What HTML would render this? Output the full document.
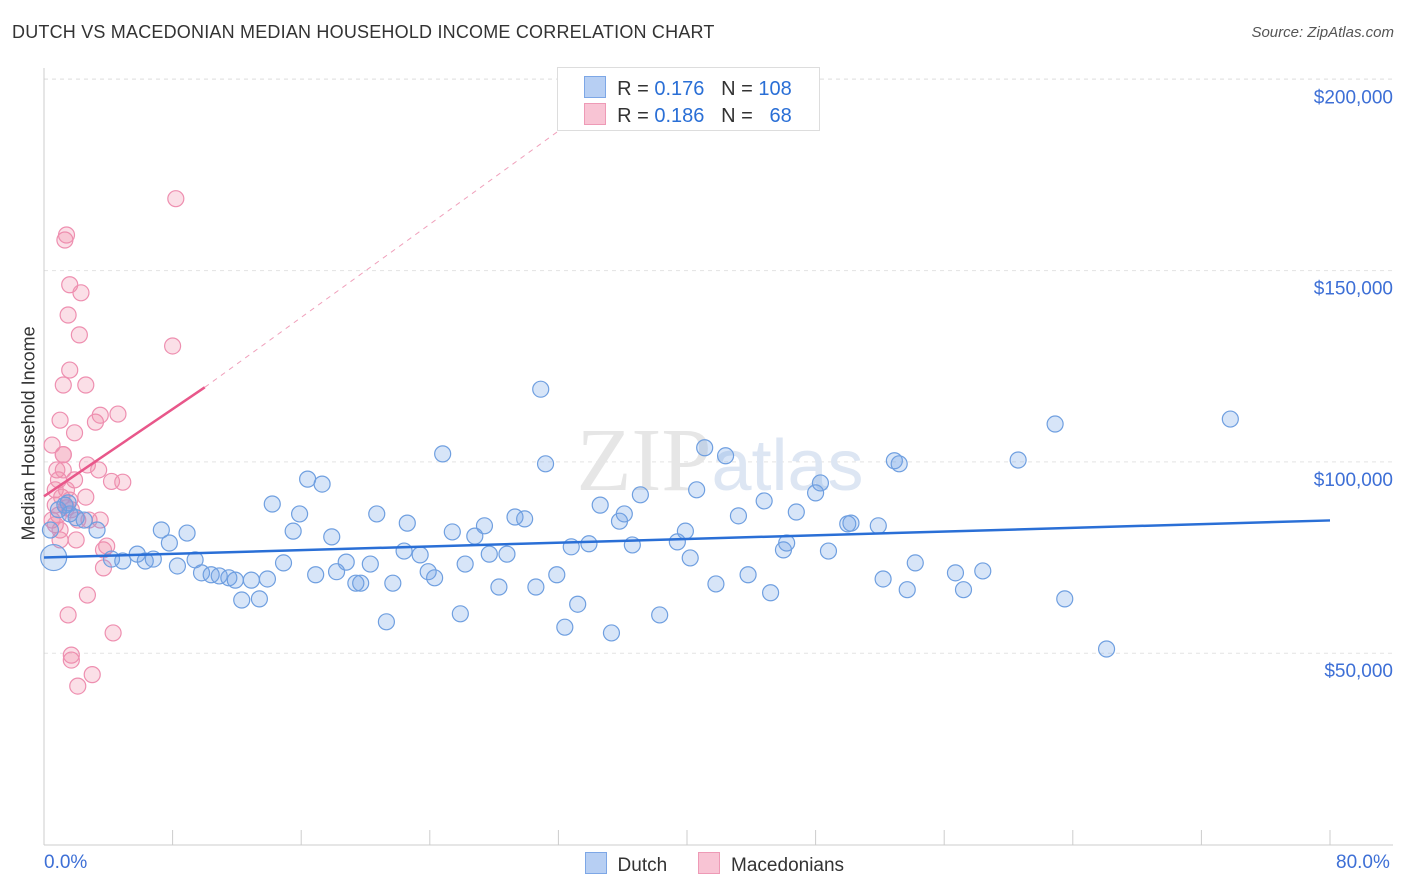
<!DOCTYPE html>
<html><head><meta charset="utf-8">
<style>
body{margin:0;background:#fff;font-family:"Liberation Sans",sans-serif;}
#wrap{position:relative;width:1406px;height:892px;overflow:hidden;}
.t{position:absolute;white-space:nowrap;}
</style></head><body>
<div id="wrap">
<div class="t" style="left:12px;top:22px;font-size:18px;color:#333;letter-spacing:0.2px">DUTCH VS MACEDONIAN MEDIAN HOUSEHOLD INCOME CORRELATION CHART</div>
<div class="t" style="right:12px;top:24px;font-size:15px;color:#555;font-style:italic">Source: ZipAtlas.com</div>
<svg id="svg" width="1406" height="892" style="position:absolute;left:0;top:0"></svg>
</div>
<script>
const dutchX=[0.6,1.5,2.0,2.5,3.3,4.2,4.9,5.8,6.3,6.8,7.3,7.8,8.3,8.9,9.4,9.8,10.4,10.9,11.5,11.9,12.3,12.9,13.4,13.9,14.2,14.9,15.5,15.9,16.4,16.9,17.3,17.9,18.2,18.8,19.4,19.7,20.3,20.7,21.3,21.7,22.4,22.6,23.4,23.9,24.3,24.8,25.4,25.9,26.2,26.8,27.4,27.7,28.3,28.8,29.3,29.9,30.6,30.9,31.2,31.9,32.4,32.8,33.2,33.9,34.6,35.3,35.8,36.1,36.6,37.1,38.3,39.4,39.9,40.2,40.6,41.1,41.8,42.4,43.2,43.8,44.8,45.2,46.0,46.2,46.8,48.0,48.3,48.8,50.0,50.2,51.9,52.2,52.9,53.2,53.7,54.2,56.7,57.2,58.4,60.6,62.9,63.5,66.1,73.8,0.4,0.9,1.3,1.6];
const dutchY=[75,89.3,85.4,84.8,82.2,74.6,74.1,75.9,74.1,74.6,82.2,78.8,72.8,81.4,74.4,71.0,70.5,70.2,69.7,69.1,63.9,69.1,64.2,69.4,89.0,73.6,81.9,86.4,95.5,70.5,94.2,80.4,71.3,73.8,68.3,68.3,73.3,86.4,58.2,68.3,76.7,84.0,75.7,71.3,69.7,102.1,81.7,60.3,73.3,80.6,83.3,75.9,67.3,75.9,85.6,85.1,67.3,119.0,99.5,70.5,56.8,77.8,62.8,78.6,88.7,55.3,84.5,86.4,78.3,91.4,60.0,79.1,81.9,74.9,92.7,103.7,68.1,101.6,85.9,70.5,89.8,65.8,77.0,78.8,86.9,91.9,94.5,76.7,83.8,84.0,83.3,69.4,100.3,99.5,66.6,73.6,71.0,66.6,71.5,100.5,109.9,64.2,51.1,111.2,82.2,87.5,88.7,86.4];
const macX=[0.5,0.5,0.7,0.7,0.8,0.9,1.0,1.1,1.2,1.2,1.3,1.4,1.5,1.6,1.6,1.5,1.7,1.7,1.9,1.9,2.0,2.1,2.2,2.3,2.6,2.6,2.7,2.7,3.0,3.2,3.4,3.5,3.5,3.7,3.7,3.9,4.2,4.3,4.6,4.9,8.0,8.2,1.0,0.9,1.2,1.4,1.6,1.2,0.7,1.0,1.7,2.1,2.8,1.4];
const macY=[84.8,104.4,92.7,88.7,97.9,86.1,79.6,90.8,101.9,120.1,158.0,159.3,138.4,146.3,124.0,60.0,48.2,49.5,95.3,107.6,79.6,41.4,133.2,144.2,120.1,90.8,99.2,65.2,44.4,110.4,97.9,84.8,112.2,77.0,72.3,78.0,94.9,55.3,112.5,94.7,130.3,168.8,110.9,95.3,101.9,88.0,90.0,97.9,83.6,82.2,87.5,84.8,84.8,92.7];
const yTicks=[50,100,150,200];
const yTickLabels=["$50,000","$100,000","$150,000","$200,000"];
const dutchTrend=[[0,75.0],[80,84.7]];
const macTrend=[[0,91.0],[10,119.5]];
const macTrendExt=[[10,119.5],[32.5,188]];

const X0=44,X1=1330,Y0=844.5,PY=191.3/50;
const sx=v=>X0+(v/80)*(X1-X0);
const sy=v=>Y0-v*PY;
const svg=document.getElementById('svg');
const NS='http://www.w3.org/2000/svg';
function mk(tag,attrs){const e=document.createElementNS(NS,tag);for(const k in attrs)e.setAttribute(k,attrs[k]);svg.appendChild(e);return e;}

yTicks.forEach((t,i)=>{
  const g=mk('line',{x1:44,x2:1393,y1:sy(t),y2:sy(t),stroke:'#e3e3e3','stroke-dasharray':'4,4'});
  
  
  const l=mk('text',{x:1393,y:sy(t)+24,'text-anchor':'end','font-size':19,fill:'#3d6fd6','font-family':'Liberation Sans, sans-serif'});
  l.textContent=yTickLabels[i];
  
  
});
const tg=mk('line',{x1:44,x2:1393,y1:79,y2:79,stroke:'#e3e3e3','stroke-dasharray':'4,4'});


const ya=mk('line',{x1:44,x2:44,y1:68,y2:845,stroke:'#ccc'});


const xa=mk('line',{x1:44,x2:1393,y1:845,y2:845,stroke:'#ccc'});


for(let i=0;i<=10;i++){
  const tk=mk('line',{x1:sx(i*8),x2:sx(i*8),y1:830,y2:845,stroke:'#ccc'});
  
  
}
const wm=mk('text',{x:720,y:490,'text-anchor':'middle','font-size':90,fill:'#e6e6e6','font-family':'Liberation Serif, serif'});
wm.innerHTML='ZIP<tspan fill="#dde6f3" font-family="Liberation Sans, sans-serif" font-size="72">atlas</tspan>';



macX.forEach((v,i)=>{
  const c=mk('circle',{cx:sx(v),cy:sy(macY[i]),r:8,fill:'rgba(240,140,170,0.28)',stroke:'#ee8fb0','stroke-width':1.2});
  
  
});
dutchX.forEach((v,i)=>{
  const c=mk('circle',{cx:sx(v),cy:sy(dutchY[i]),r:i===0?13:8,fill:'rgba(110,160,230,0.28)',stroke:'#6f9fe0','stroke-width':1.2});
  
  
});
const dt=mk('line',{x1:sx(dutchTrend[0][0]),y1:sy(dutchTrend[0][1]),x2:sx(dutchTrend[1][0]),y2:sy(dutchTrend[1][1]),stroke:'#2a6fd6','stroke-width':2.5});


const mt=mk('line',{x1:sx(macTrend[0][0]),y1:sy(macTrend[0][1]),x2:sx(macTrend[1][0]),y2:sy(macTrend[1][1]),stroke:'#e8578a','stroke-width':2.5});


const me=mk('line',{x1:sx(macTrendExt[0][0]),y1:sy(macTrendExt[0][1]),x2:sx(macTrendExt[1][0]),y2:sy(macTrendExt[1][1]),stroke:'#f0a0bb','stroke-width':1,'stroke-dasharray':'5,5'});


</script>
<div class="t" style="left:-56px;top:445px;transform:rotate(-90deg);font-size:18px;color:#333;width:170px;text-align:center">Median Household Income</div>
<div class="t" style="left:44px;top:852px;font-size:19px;color:#3d6fd6">0.0%</div>
<div class="t" style="left:1336px;top:852px;font-size:19px;color:#3d6fd6">80.0%</div>
<div style="position:absolute;left:557px;top:67px;width:261px;height:62px;border:1px solid #ddd;background:#fff;font-size:20px;color:#333">
  <div style="position:absolute;left:26px;top:8px;white-space:nowrap"><span style="display:inline-block;width:20px;height:20px;background:#b7cff3;border:1px solid #7da7e6;vertical-align:-3px"></span>&nbsp; R = <span style="color:#2a6fd6">0.176</span> &nbsp; N = <span style="color:#2a6fd6">108</span></div>
  <div style="position:absolute;left:26px;top:35px;white-space:nowrap"><span style="display:inline-block;width:20px;height:20px;background:#f8c4d4;border:1px solid #ee9ab6;vertical-align:-3px"></span>&nbsp; R = <span style="color:#2a6fd6">0.186</span> &nbsp; N = &nbsp;&nbsp;<span style="color:#2a6fd6">68</span></div>
</div>
<div style="position:absolute;left:585px;top:852px;font-size:19px;color:#333;white-space:nowrap">
  <span><span style="display:inline-block;width:20px;height:20px;background:#b7cff3;border:1px solid #7da7e6;vertical-align:-3px"></span>&nbsp; Dutch</span>
  <span style="margin-left:26px"><span style="display:inline-block;width:20px;height:20px;background:#f8c4d4;border:1px solid #ee9ab6;vertical-align:-3px"></span>&nbsp; Macedonians</span>
</div>
</body></html>
